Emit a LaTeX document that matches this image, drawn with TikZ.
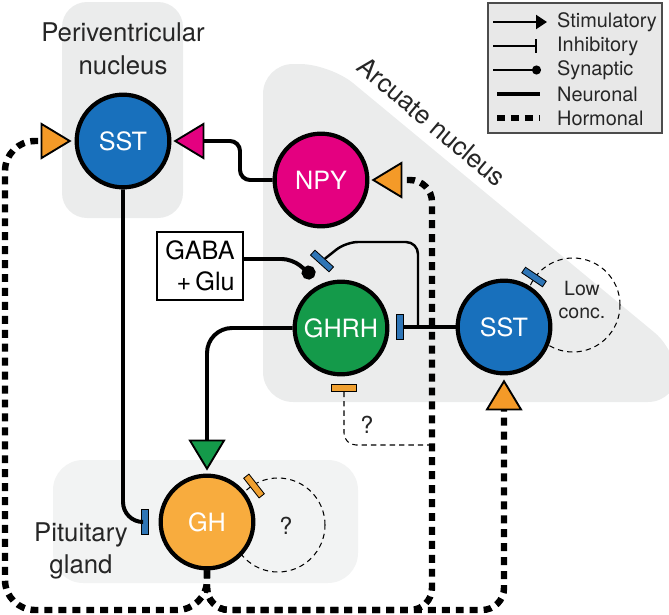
\documentclass[tikz,border=0pt]{standalone}
\usepackage{fontspec}
\setmainfont{TeX Gyre Heros}
\usetikzlibrary{arrows.meta, shapes.geometric, positioning}

\definecolor{sstblue}{RGB}{24,112,188}
\definecolor{npymag}{RGB}{228,0,128}
\definecolor{ghrhgreen}{RGB}{20,154,74}
\definecolor{ghorange}{RGB}{248,172,62}
\definecolor{horange}{RGB}{244,154,40}
\definecolor{barblue}{RGB}{46,117,182}
\definecolor{barorange}{RGB}{240,160,48}
\definecolor{regiongray}{RGB}{235,236,236}
\definecolor{pitgray}{RGB}{242,243,243}
\definecolor{keygray}{RGB}{232,232,232}

\begin{document}
\begin{tikzpicture}[
    x=0.03cm, y=-0.03cm,
    cell/.style={circle, draw, line width=3.6pt, minimum size=2.78cm, inner sep=0pt, text=white, font=\fontsize{21.5}{24}\selectfont},
    ibar/.style={rectangle, draw, line width=0.7pt, minimum width=0.75cm, minimum height=0.2cm, inner sep=0pt, fill=#1},
    neuronal/.style={line width=3.4pt},
    axon/.style={line width=2.1pt},
    hormonal/.style={line width=5.5pt, dash pattern=on 6.8pt off 5.1pt},
    loopline/.style={line width=0.9pt, dash pattern=on 4.5pt off 3.5pt},
    stim/.style={-{Triangle[length=0.93cm, width=1.11cm, fill=#1, line width=1.6pt]}},
    region/.style={align=center, text=black!85, font=\fontsize{22}{28}\selectfont},
    note/.style={align=center, text=black!85, font=\fontsize{16.7}{20.4}\selectfont},
    query/.style={text=black!85, font=\fontsize{20}{24}\selectfont},
    keytext/.style={anchor=west, text=black!85, font=\fontsize{17}{20}\selectfont},
    keystim/.style={line width=1.7pt, -{Triangle[length=0.33cm, width=0.42cm]}},
    keyinh/.style={line width=1.7pt, -{Bar[width=0.42cm, line width=1.7pt]}},
    keysyn/.style={line width=1.7pt, -{Circle[length=0.27cm]}},
    keyneu/.style={neuronal},
    keyhor/.style={hormonal},
]
\useasboundingbox (0,0) rectangle (669,615);

% nuclei
\fill[regiongray, rounded corners=0.75cm] (62,2) rectangle (183,218);
\fill[regiongray, rounded corners=0.9cm] (263,402) -- (263,64) -- (330,64) -- (678,352) -- (678,402) -- cycle;
\fill[pitgray, rounded corners=0.9cm] (53,460) rectangle (358,583);

\node[region] (pvlabel) at (123,49) {Periventricular\\nucleus};
\node[region, rotate=-40] (arclabel) at (432,122) {Arcuate nucleus};
\node[region] (pitlabel) at (81,551) {Pituitary\\gland};

% autofeedback loops
\draw[loopline] (278,525) circle[radius=1.41cm];
\draw[loopline] (573,305) circle[radius=1.41cm];

\node[cell, fill=sstblue] (sstpv) at (123,141) {SST};
\node[cell, fill=npymag] (npy) at (321,180) {NPY};
\node[cell, fill=ghrhgreen] (ghrh) at (341,328) {GHRH};
\node[cell, fill=sstblue] (ssta) at (504,327) {SST};
\node[cell, fill=ghorange] (gh) at (207,522) {GH};

\node[draw, line width=1.2pt, fill=white, minimum width=2.58cm, minimum height=2.04cm, align=right, font=\fontsize{21.5}{26}\selectfont] (gaba) at (200,266) {GABA\\+\,Glu};

\node[ibar=barblue, rotate=90] (barghrh) at (400,327) {};
\node[ibar=barblue, rotate=-42] (bartop) at (322,261) {};
\node[ibar=barblue, rotate=90] (bargh) at (145,522) {};
\node[ibar=barblue, rotate=-34] (barssta) at (534,277) {};
\node[ibar=barorange] (barghrhb) at (344,388) {};
\node[ibar=barorange, rotate=-52] (bargh2) at (254,486) {};

\node[note] (lowconc) at (582,300) {Low\\conc.};
\node[query] (qgh) at (286,526) {?};
\node[query] (qghrh) at (367,425) {?};

\coordinate (split) at (418,327);
\coordinate (hjoin) at (432,445);
\coordinate (busL) at (5,610);
\coordinate (busR) at (432,610);

% neuronal
\draw[neuronal] (ssta) -- (barghrh);
\draw[axon, rounded corners=0.36cm] (split) -- (418,242) -- (346,242) -- (bartop);
\draw[neuronal, -{Circle[length=0.42cm]}, rounded corners=0.3cm] ([yshift=0.21cm]gaba.east) -- (292,259) -- (314,277);
\draw[neuronal, stim=ghrhgreen, rounded corners=0.75cm, shorten >=0.09cm] (ghrh.west) -| (gh.north);
\draw[neuronal, rounded corners=0.6cm] (sstpv.south) |- (bargh);
\draw[neuronal, stim=npymag, rounded corners=0.3cm, shorten >=0.06cm] (npy.west) -- (240,180) -- (240,141) -- (sstpv.east);

% hormonal
\draw[loopline, rounded corners=0.36cm] (barghrhb) |- (hjoin);
\draw[hormonal, stim=horange, rounded corners=0.9cm, shorten >=0.09cm] (gh.south) |- (busL) |- (sstpv.west);
\draw[hormonal, stim=horange, rounded corners=0.66cm, shorten >=0.06cm] (gh.south) |- (busR) |- (npy.east);
\draw[hormonal, stim=horange, rounded corners=0.66cm, shorten >=0.12cm] (gh.south) |- (ssta.south |- busR) -- (ssta.south);

% key
\node[draw=black!70, line width=1.4pt, fill=keygray, minimum width=5.22cm, minimum height=3.9cm] (key) at (575,68) {};
\foreach \sty/\xa/\xb/\txt [count=\i] in {keystim/493/547/Stimulatory, keyinh/493/537/Inhibitory, keysyn/493/541/Synaptic, keyneu/497/540/Neuronal, keyhor/497/540/Hormonal}{
  \draw[\sty] (\xa,{24*\i-2}) -- (\xb,{24*\i-2});
  \node[keytext] (key\i) at (553,{24*\i-2}) {\txt};
}
\end{tikzpicture}
\end{document}
